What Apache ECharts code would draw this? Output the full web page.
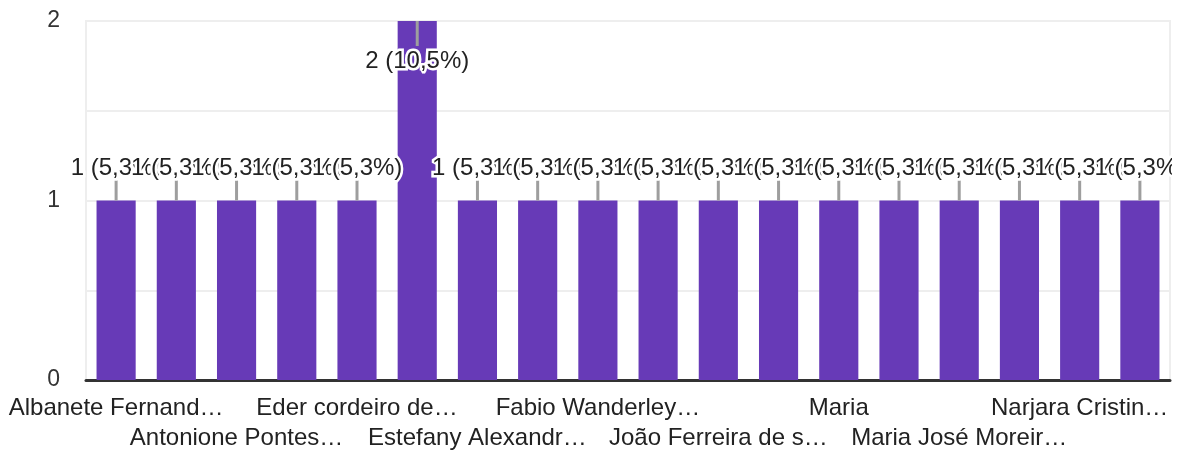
<!DOCTYPE html>
<html>
<head>
<meta charset="utf-8">
<script src="https://cdn.jsdelivr.net/npm/echarts@6/dist/echarts.min.js"></script>
<style>
  html, body { margin: 0; padding: 0; background: #fff; }
  #chart { width: 1172px; height: 453px; }
</style>
</head>
<body>
<div id="chart"></div>
<script>
// respondentes (nomes cortados como aparecem no gráfico; os ocultos são provisórios)
var categories = [
  'Albanete Fernand…', 'Participante 2', 'Antonione Pontes…', 'Participante 4',
  'Eder cordeiro de…', 'Participante 6', 'Estefany Alexandr…', 'Participante 8',
  'Fabio Wanderley…', 'Participante 10', 'João Ferreira de s…', 'Participante 12',
  'Maria', 'Participante 14', 'Maria José Moreir…', 'Participante 16',
  'Narjara Cristin…', 'Participante 18'
];
var counts = [1, 1, 1, 1, 1, 2, 1, 1, 1, 1, 1, 1, 1, 1, 1, 1, 1, 1];
var yTicks = [0, 1, 2];

var total = counts.reduce(function (a, b) { return a + b; }, 0);
var maxVal = Math.max.apply(null, counts);
var FONT = '24px Arial, "Liberation Sans", sans-serif';

function pctLabel(v) {
  return v + ' (' + (v / total * 100).toFixed(1).replace('.', ',') + '%)';
}

// two rows of category labels: row 1 = idx 0,4,8..., row 2 = idx 2,6,10...
function rowAxis(rowStart, offset, showLine) {
  return {
    type: 'category',
    data: categories,
    position: 'bottom',
    offset: offset,
    axisTick: { show: false },
    axisLine: { show: showLine, lineStyle: { color: '#333', width: 3 } },
    splitLine: { show: false },
    axisLabel: {
      interval: function (idx) { return idx % 4 === rowStart; },
      margin: 16,
      fontSize: 24,
      fontFamily: 'Arial',
      color: '#222'
    }
  };
}

var chart = echarts.init(document.getElementById('chart'));
chart.setOption({
  animation: false,
  grid: {
    left: 86, right: 2, top: 21, bottom: 73,
    containLabel: false,
    outerBoundsMode: 'none',
    show: true, borderColor: '#eeeeee', borderWidth: 2
  },
  xAxis: [rowAxis(0, 0, true), rowAxis(2, 30, false)],
  yAxis: {
    type: 'value',
    min: 0,
    max: 2,
    interval: 0.5,
    axisLine: { show: false },
    axisTick: { show: false },
    splitLine: { lineStyle: { color: '#eeeeee', width: 2 } },
    axisLabel: {
      margin: 26,
      fontSize: 23,
      fontFamily: 'Arial',
      color: '#333',
      formatter: function (v) {
        return yTicks.indexOf(v) >= 0 ? String(v) : '';
      }
    }
  },
  series: [
    {
      type: 'bar',
      data: counts,
      barCategoryGap: '35%',
      itemStyle: { color: '#673ab7' }
    },
    {
      type: 'custom',
      z: 5,
      data: counts.map(function (v, i) { return [i, v]; }),
      renderItem: function (params, api) {
        var v = api.value(1);
        var p = api.coord([api.value(0), v]);
        var inside = v === maxVal;
        var y2 = inside ? p[1] + 25 : p[1] - 20;
        var ty = inside ? p[1] + 40 : p[1] - 32;
        return {
          type: 'group',
          children: [
            {
              type: 'line',
              shape: { x1: p[0], y1: p[1], x2: p[0], y2: y2 },
              style: { stroke: '#9e9e9e', lineWidth: 3 }
            },
            {
              type: 'text',
              x: p[0],
              y: ty,
              style: {
                text: pctLabel(v),
                font: FONT,
                fill: '#222',
                stroke: '#fff',
                lineWidth: 5,
                align: 'center',
                verticalAlign: 'middle'
              }
            }
          ]
        };
      }
    }
  ]
});
</script>
</body>
</html>
